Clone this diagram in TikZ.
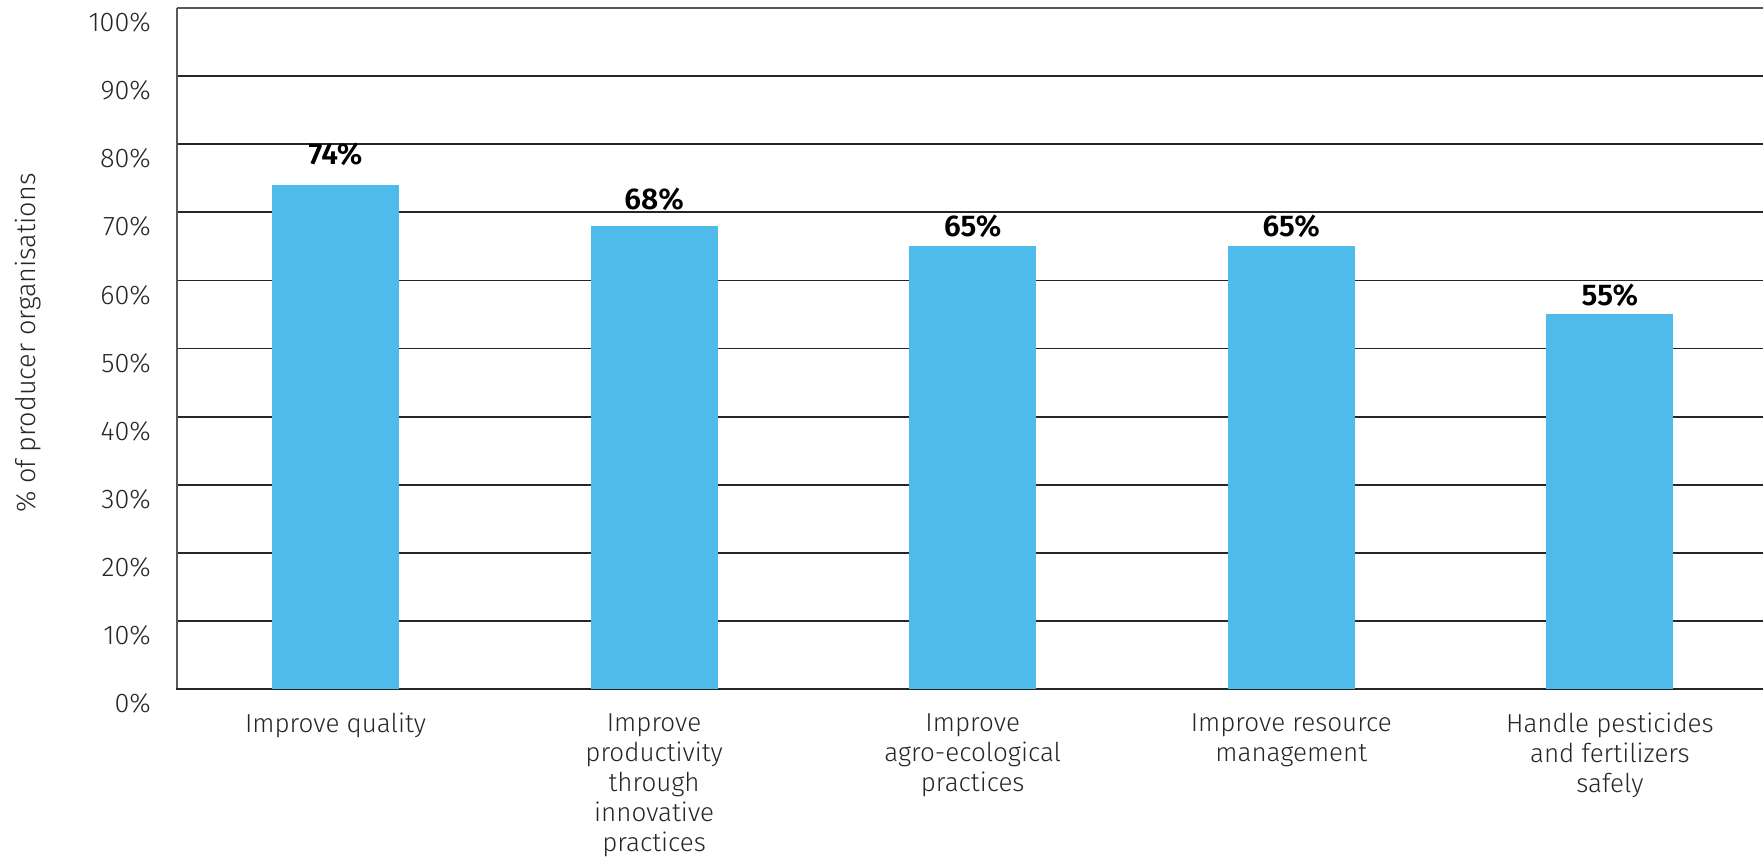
\documentclass[tikz,border=0pt]{standalone}
\usepackage{fontspec}
\setmainfont{Fira Sans}[UprightFont=* Light, BoldFont=* SemiBold]
\usepackage{tikz}

\definecolor{barblue}{HTML}{4FBBEB}
\definecolor{gridcol}{HTML}{262626}
\definecolor{axisgray}{HTML}{595959}
\definecolor{textcol}{HTML}{262626}

\begin{document}
\begin{tikzpicture}[x=1pt, y=-1pt,
        grid line/.style={line width=1.8pt, gridcol},
        axis line/.style={line width=2pt, axisgray},
        bar/.style={fill=barblue},
        tick label/.style={anchor=east, inner sep=0pt, text=textcol, font=\fontsize{27}{30}\selectfont},
        value/.style={anchor=base, inner sep=0pt, text=black, font=\fontsize{30}{32}\bfseries},
        cat/.style={anchor=north, inner sep=0pt, align=center, text=textcol, font=\fontsize{26}{30}\selectfont}]
        \useasboundingbox (0,0) rectangle (1763,860);
        % gridlines and axes
        \foreach \p in {1,...,9}
            \draw [grid line] (177,{689-68.1*\p}) -- (1763,{689-68.1*\p});
        \draw [axis line] (177,8) -- (1763,8);
        \draw [axis line] (177,8) -- (177,690);
        \draw [grid line] (176,689) -- (1763,689);
        % tick labels
        \foreach \p in {0,10,...,100}
            \node [tick label] (tick\p) at (151,{703.5-6.81*\p}) {\p\%};
        \node [rotate=90, inner sep=0pt, text=textcol, font=\fontsize{27}{30}\selectfont] (ytitle) at (28,343) {\% of producer organisations};
        % bars with values
        \foreach \val/\lab [count=\i] in {74/164,68/209,65/236,65/236,55/305} {
            \fill [bar] ({335.5+318.6*(\i-1)-63.5},689) rectangle ++(127,{-6.81*\val});
            \node [value] (val\i) at ({335.5+318.6*(\i-1)},\lab) {\val\%};
        }
        % category labels
        \node [cat] (cat1) at (335.5,713) {Improve quality};
        \node [cat] (cat2) at (654.1,713) {Improve\\productivity\\through\\innovative\\practices};
        \node [cat] (cat3) at (972.7,713) {Improve\\agro-ecological\\practices};
        \node [cat] (cat4) at (1291.3,713) {Improve resource\\management};
        \node [cat] (cat5) at (1609.9,713) {Handle pesticides\\and fertilizers\\safely};
    \end{tikzpicture}
\end{document}
